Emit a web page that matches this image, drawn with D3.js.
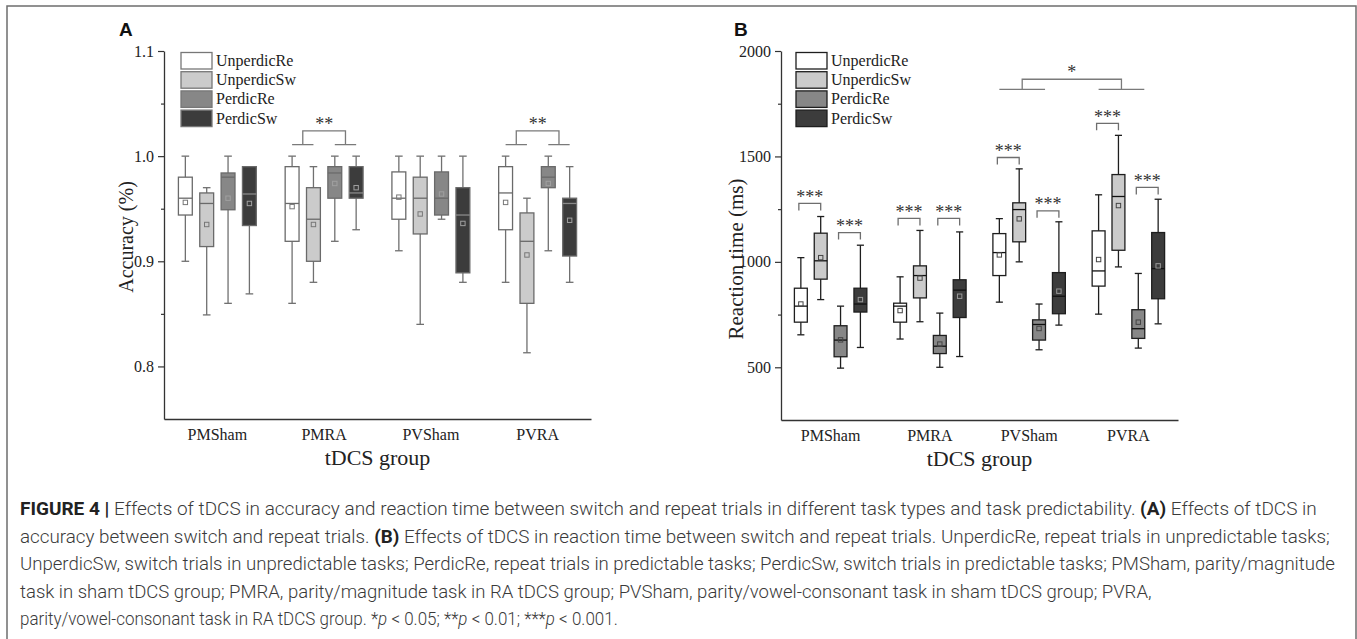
<!DOCTYPE html>
<html>
<head>
<meta charset="utf-8">
<script src="https://cdn.jsdelivr.net/npm/d3@7"></script>
<style>
  body { margin: 0; background: #fff; }
  svg text { font-family: "Liberation Serif", "Times New Roman", serif; }
</style>
</head>
<body>
<div id="fig"></div>
<script>
// grupos y condiciones
const groups = ['PMSham', 'PMRA', 'PVSham', 'PVRA'];
const conditions = ['UnperdicRe', 'UnperdicSw', 'PerdicRe', 'PerdicSw'];
const fills = ['#ffffff', '#cbcbcb', '#878787', '#3c3c3c'];

// Panel A: accuracy, filas = grupo, columnas = condición
const accLow  = [[0.900, 0.849, 0.860, 0.869], [0.860, 0.880, 0.919, 0.930], [0.910, 0.840, 0.940, 0.880], [0.880, 0.813, 0.910, 0.880]];
const accQ1   = [[0.944, 0.914, 0.949, 0.934], [0.919, 0.900, 0.960, 0.960], [0.940, 0.926, 0.944, 0.889], [0.930, 0.860, 0.970, 0.905]];
const accMed  = [[0.960, 0.955, 0.980, 0.964], [0.955, 0.940, 0.984, 0.965], [0.960, 0.960, 0.960, 0.944], [0.965, 0.919, 0.980, 0.955]];
const accQ3   = [[0.980, 0.965, 0.984, 0.990], [0.990, 0.970, 0.990, 0.990], [0.985, 0.980, 0.985, 0.970], [0.990, 0.946, 0.990, 0.960]];
const accHigh = [[1.000, 0.970, 1.000, 0.990], [1.000, 0.990, 1.000, 1.000], [1.000, 1.000, 1.000, 1.000], [1.000, 0.960, 1.000, 0.990]];
const accMean = [[0.956, 0.935, 0.960, 0.955], [0.952, 0.935, 0.974, 0.970], [0.961, 0.945, 0.964, 0.936], [0.956, 0.906, 0.974, 0.939]];
const accTicks = [0.8, 0.9, 1.0, 1.1];
const accMinor = [0.85, 0.95, 1.05];
// ** entre pares (Re vs Sw)
const accSig = [
  { group: 'PMRA', label: '**', foot: 1.011, top: 1.024 },
  { group: 'PVRA', label: '**', foot: 1.011, top: 1.024 }
];

// Panel B: reaction time (ms)
const rtLow  = [[654, 821, 496, 594], [634, 716, 500, 551], [809, 1000, 583, 700], [752, 976, 591, 706]];
const rtQ1   = [[714, 918, 550, 762], [714, 829, 565, 736], [935, 1095, 629, 754], [885, 1055, 637, 825]];
const rtMed  = [[790, 1005, 629, 800], [790, 935, 600, 866], [1044, 1248, 703, 837], [957, 1310, 683, 968]];
const rtQ3   = [[875, 1136, 697, 875], [804, 981, 651, 915], [1134, 1280, 725, 949], [1147, 1414, 773, 1139]];
const rtHigh = [[1020, 1215, 790, 1079], [929, 1149, 757, 1142], [1205, 1441, 800, 1190], [1318, 1600, 945, 1297]];
const rtMean = [[800, 1020, 630, 821], [769, 923, 610, 837], [1033, 1204, 684, 861], [1011, 1267, 714, 981]];
const rtTicks = [500, 1000, 1500, 2000];
const rtMinor = [750, 1250, 1750];
// *** entre Re y Sw de cada tipo
const rtPairSig = [
  { group: 'PMSham', pair: ['UnperdicRe', 'UnperdicSw'], top: 1277 },
  { group: 'PMSham', pair: ['PerdicRe', 'PerdicSw'], top: 1139 },
  { group: 'PMRA', pair: ['UnperdicRe', 'UnperdicSw'], top: 1206 },
  { group: 'PMRA', pair: ['PerdicRe', 'PerdicSw'], top: 1206 },
  { group: 'PVSham', pair: ['UnperdicRe', 'UnperdicSw'], top: 1495 },
  { group: 'PVSham', pair: ['PerdicRe', 'PerdicSw'], top: 1242 },
  { group: 'PVRA', pair: ['UnperdicRe', 'UnperdicSw'], top: 1657 },
  { group: 'PVRA', pair: ['PerdicRe', 'PerdicSw'], top: 1353 }
];
// * entre grupos PVSham y PVRA
const rtGroupSig = { groups: ['PVSham', 'PVRA'], label: '*', foot: 1818, top: 1866 };

const captionLines = [
  [['FIGURE 4 |', 'b'], [' Effects of tDCS in accuracy and reaction time between switch and repeat trials in different task types and task predictability. '], ['(A)', 'b'], [' Effects of tDCS in']],
  [['accuracy between switch and repeat trials. '], ['(B)', 'b'], [' Effects of tDCS in reaction time between switch and repeat trials. UnperdicRe, repeat trials in unpredictable tasks;']],
  [['UnperdicSw, switch trials in unpredictable tasks; PerdicRe, repeat trials in predictable tasks; PerdicSw, switch trials in predictable tasks; PMSham, parity/magnitude']],
  [['task in sham tDCS group; PMRA, parity/magnitude task in RA tDCS group; PVSham, parity/vowel-consonant task in sham tDCS group; PVRA,']],
  [['parity/vowel-consonant task in RA tDCS group. *'], ['p', 'i'], [' < 0.05; **'], ['p', 'i'], [' < 0.01; ***'], ['p', 'i'], [' < 0.001.']]
];
const captionWidths = [1298, 1311, 1316, 1132, 598];

const W = 1357, H = 639;
const svg = d3.select('#fig').append('svg').attr('width', W).attr('height', H);

// marco de la figura
svg.append('rect').attr('x', 7).attr('y', 6).attr('width', W - 8).attr('height', H + 10)
   .attr('fill', 'none').attr('stroke', '#6e6e6e').attr('stroke-width', 1.5);

function drawPanel(opt) {
  const g = svg.append('g');
  const x = d3.scaleBand().domain(groups).range([opt.x0, opt.x1]);
  const bw = x.bandwidth();
  const xi = d3.scaleBand().domain(conditions).range([-0.4 * bw, 0.4 * bw])
               .paddingInner(0.35).paddingOuter(0.175);
  const y = d3.scaleLinear().domain(opt.domain).range([opt.y1, opt.y0]);
  const cx = (gr, c) => x(gr) + bw / 2 + xi(c) + xi.bandwidth() / 2;
  const boxW = xi.bandwidth(), capW = boxW * 0.55;

  // eje y
  const ay = g.append('g').attr('transform', `translate(${opt.x0},0)`)
    .call(d3.axisLeft(y).tickValues(opt.ticks).tickFormat(opt.fmt).tickSize(6).tickSizeOuter(0).tickPadding(4));
  ay.select('.domain').attr('stroke', '#333').attr('stroke-width', 1.3);
  ay.selectAll('.tick line').attr('stroke', '#333').attr('stroke-width', 1.2);
  ay.selectAll('.tick text').attr('font-size', 16).attr('fill', '#222');
  const am = g.append('g').attr('transform', `translate(${opt.x0},0)`)
    .call(d3.axisLeft(y).tickValues(opt.minor).tickFormat('').tickSize(3).tickSizeOuter(0));
  am.select('.domain').remove();
  am.selectAll('.tick line').attr('stroke', '#333').attr('stroke-width', 1.2);

  // eje x
  const ax = g.append('g').attr('transform', `translate(0,${opt.y1})`)
    .call(d3.axisBottom(x).tickSize(0).tickSizeOuter(0).tickPadding(10));
  ax.select('.domain').attr('stroke', '#333').attr('stroke-width', 1.3);
  ax.selectAll('.tick text').attr('font-size', 16).attr('fill', '#222');

  g.append('text').attr('x', (opt.x0 + opt.x1) / 2).attr('y', opt.y1 + 46)
   .attr('text-anchor', 'middle').attr('font-size', 22).attr('fill', '#222').text('tDCS group');
  g.append('text').attr('transform', `translate(${opt.ylabX},${opt.ylabY}) rotate(-90)`)
   .attr('text-anchor', 'middle').attr('font-size', opt.ylabSize).attr('fill', '#222').text(opt.ylabel);
  g.append('text').attr('x', opt.letterX).attr('y', 36).attr('font-size', 19).attr('font-weight', 'bold')
   .style('font-family', '"Liberation Sans", Arial, sans-serif').attr('fill', '#111').text(opt.letter);

  // cajas
  const rows = [];
  groups.forEach((gr, i) => conditions.forEach((c, j) => rows.push({
    gr, c, j, low: opt.low[i][j], q1: opt.q1[i][j], med: opt.med[i][j],
    q3: opt.q3[i][j], high: opt.high[i][j], mean: opt.mean[i][j]
  })));
  const box = g.append('g').selectAll('g').data(rows).join('g');
  box.append('line').attr('x1', d => cx(d.gr, d.c)).attr('x2', d => cx(d.gr, d.c))
     .attr('y1', d => y(d.low)).attr('y2', d => y(d.high))
     .attr('stroke', opt.whisker).attr('stroke-width', 1.3);
  box.selectAll('line.cap').data(d => [d.low, d.high].map(v => ({ d, v }))).join('line')
     .attr('x1', e => cx(e.d.gr, e.d.c) - capW / 2).attr('x2', e => cx(e.d.gr, e.d.c) + capW / 2)
     .attr('y1', e => y(e.v)).attr('y2', e => y(e.v))
     .attr('stroke', opt.whisker).attr('stroke-width', 1.3);
  box.append('rect').attr('x', d => cx(d.gr, d.c) - boxW / 2).attr('width', boxW)
     .attr('y', d => y(d.q3)).attr('height', d => y(d.q1) - y(d.q3))
     .attr('fill', d => fills[d.j]).attr('stroke', opt.boxStroke).attr('stroke-width', 1.3);
  box.append('line').attr('x1', d => cx(d.gr, d.c) - boxW / 2).attr('x2', d => cx(d.gr, d.c) + boxW / 2)
     .attr('y1', d => y(d.med)).attr('y2', d => y(d.med))
     .attr('stroke', d => opt.medStroke(d.j)).attr('stroke-width', 1.3);
  box.append('rect').attr('x', d => cx(d.gr, d.c) - 2.2).attr('y', d => y(d.mean) - 2.2)
     .attr('width', 4.4).attr('height', 4.4).attr('fill', 'none')
     .attr('stroke', d => opt.meanStroke(d.j)).attr('stroke-width', 1);

  // leyenda
  const lg = g.append('g');
  conditions.forEach((c, j) => {
    lg.append('rect').attr('x', opt.legX).attr('y', 52.5 + j * 19.2).attr('width', 31).attr('height', 16.5)
      .attr('fill', fills[j]).attr('stroke', opt.legStroke).attr('stroke-width', 1.3);
    lg.append('text').attr('x', opt.legX + 35).attr('y', 66 + j * 19.2).attr('font-size', 16)
      .attr('fill', '#222').text(c);
  });

  return { g, x, bw, y, cx };
}

const A = drawPanel({
  x0: 164, x1: 591, y0: 51, y1: 419, domain: [0.75, 1.1],
  ticks: accTicks, minor: accMinor, fmt: d3.format('.1f'),
  low: accLow, q1: accQ1, med: accMed, q3: accQ3, high: accHigh, mean: accMean,
  whisker: '#707070', boxStroke: '#6a6a6a', medStroke: j => j === 3 ? '#8a8a8a' : '#6a6a6a',
  meanStroke: j => j >= 2 ? '#a0a0a0' : '#777', legStroke: '#777', legX: 181,
  ylabel: 'Accuracy (%)', ylabX: 133, ylabY: 237, ylabSize: 20, letter: 'A', letterX: 119
});

const B = drawPanel({
  x0: 781, x1: 1178, y0: 51, y1: 420, domain: [250, 2000],
  ticks: rtTicks, minor: rtMinor, fmt: d3.format('d'),
  low: rtLow, q1: rtQ1, med: rtMed, q3: rtQ3, high: rtHigh, mean: rtMean,
  whisker: '#1e1e1e', boxStroke: '#1e1e1e', medStroke: () => '#111',
  meanStroke: j => j === 3 ? '#999' : '#444', legStroke: '#1e1e1e', legX: 796,
  ylabel: 'Reaction time (ms)', ylabX: 743, ylabY: 259, ylabSize: 21, letter: 'B', letterX: 734
});

// ** panel A
accSig.forEach(s => {
  const xl1 = A.cx(s.group, conditions[0]), xl2 = A.cx(s.group, conditions[1]);
  const xr1 = A.cx(s.group, conditions[2]), xr2 = A.cx(s.group, conditions[3]);
  const ml = (xl1 + xl2) / 2, mr = (xr1 + xr2) / 2;
  const yf = A.y(s.foot), yt = A.y(s.top);
  const path = `M${xl1},${yf}H${xl2}M${xr1},${yf}H${xr2}M${ml},${yf}V${yt}H${mr}V${yf}`;
  A.g.append('path').attr('d', path).attr('fill', 'none').attr('stroke', '#7a7a7a').attr('stroke-width', 1.3);
  A.g.append('text').attr('x', (ml + mr) / 2).attr('y', yt - 1).attr('text-anchor', 'middle')
     .attr('font-size', 18).attr('fill', '#333').text(s.label);
});

// *** panel B
rtPairSig.forEach(s => {
  const x1 = B.cx(s.group, s.pair[0]) - 2, x2 = B.cx(s.group, s.pair[1]);
  const yt = B.y(s.top);
  B.g.append('path').attr('d', `M${x1},${yt + 7}V${yt}H${x2}V${yt + 7}`)
     .attr('fill', 'none').attr('stroke', '#6e6e6e').attr('stroke-width', 1.3);
  B.g.append('text').attr('x', (x1 + x2) / 2).attr('y', yt - 0.5).attr('text-anchor', 'middle')
     .attr('font-size', 18).attr('fill', '#333').text('***');
});
{
  const s = rtGroupSig;
  const feet = s.groups.map(gr => [B.cx(gr, conditions[0]), B.cx(gr, conditions[2]) + 6]);
  const mids = feet.map(f => (f[0] + f[1]) / 2);
  const yf = B.y(s.foot), yt = B.y(s.top);
  const path = feet.map(f => `M${f[0]},${yf}H${f[1]}`).join('') + `M${mids[0]},${yf}V${yt}H${mids[1]}V${yf}`;
  B.g.append('path').attr('d', path).attr('fill', 'none').attr('stroke', '#7a7a7a').attr('stroke-width', 1.3);
  B.g.append('text').attr('x', (mids[0] + mids[1]) / 2).attr('y', yt - 1).attr('text-anchor', 'middle')
     .attr('font-size', 18).attr('fill', '#333').text(s.label);
}

// pie de figura: cada línea se estrecha en horizontal hasta su ancho
const cap = svg.append('g');
captionLines.forEach((line, i) => {
  const t = cap.append('text').attr('x', 0).attr('y', 0)
    .attr('font-size', 17.5).attr('font-weight', 300).attr('fill', '#3a3a3a')
    .style('font-family', 'Roboto, "Liberation Sans", sans-serif');
  line.forEach(([txt, st]) => {
    const ts = t.append('tspan').text(txt);
    if (st === 'b') ts.attr('font-weight', 700).attr('fill', '#222');
    if (st === 'i') ts.attr('font-style', 'italic');
  });
  const sx = captionWidths[i] / t.node().getComputedTextLength();
  t.attr('transform', `translate(20,${515 + i * 27.5}) scale(${sx},1)`);
});
</script>
</body>
</html>
